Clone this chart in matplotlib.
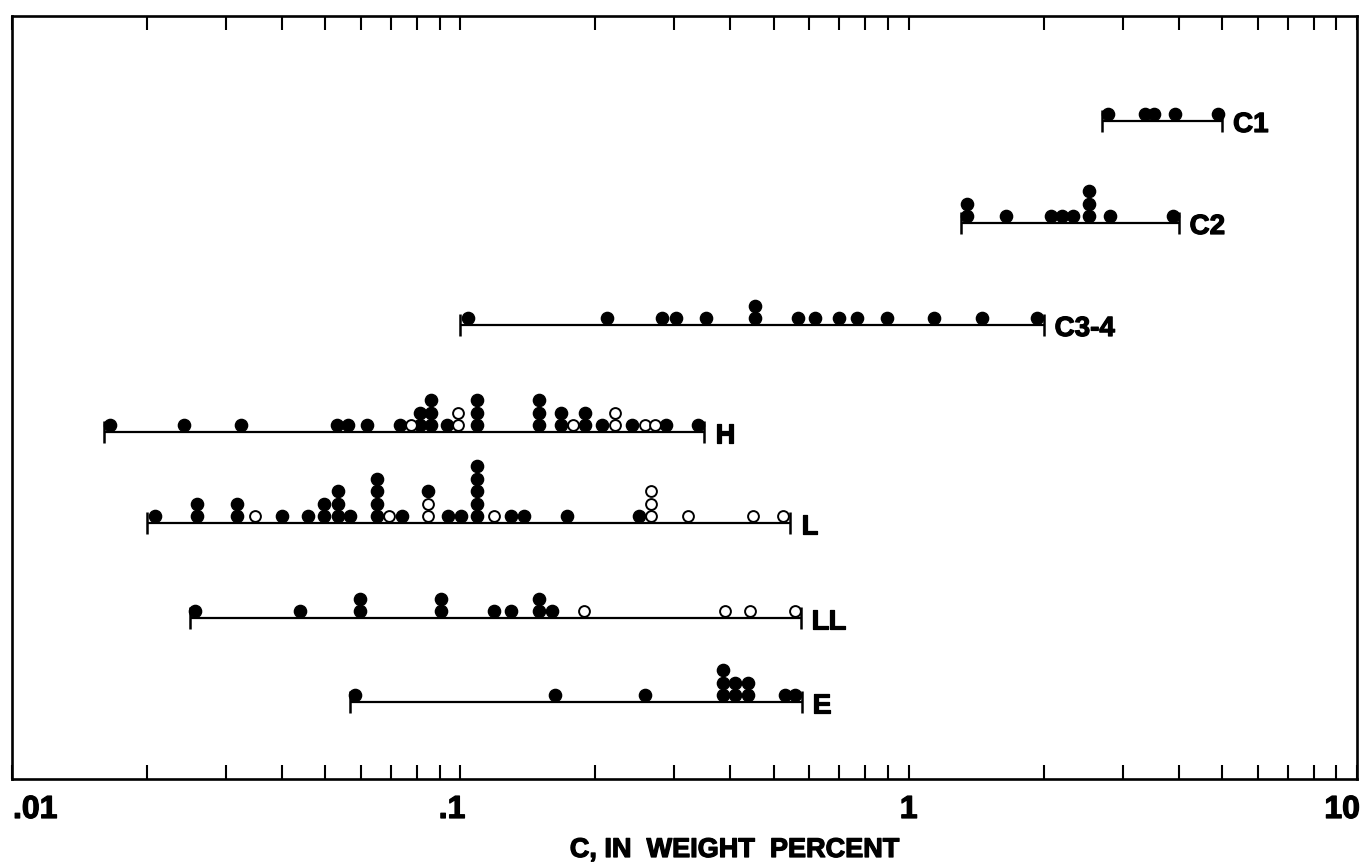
import matplotlib
matplotlib.use("Agg")
import matplotlib.pyplot as plt
import matplotlib.patheffects as pe
from matplotlib.ticker import FixedLocator, NullFormatter
from matplotlib.transforms import blended_transform_factory, offset_copy

plt.rcParams['font.family'] = ['Liberation Sans', 'DejaVu Sans']
plt.rcParams['font.weight'] = 'bold'

# ---- data: carbon content (weight percent) per group ----
groups = ['C1', 'C2', 'C3-4', 'H', 'L', 'LL', 'E']

c1_vals = [2.78, 3.36, 3.52, 3.92, 4.89]
c1_open = [0, 0, 0, 0, 0]
c1_range = (2.7, 5.0)

c2_vals = [1.35, 1.35, 1.65, 2.08, 2.20, 2.32, 2.52, 2.52, 2.52, 2.81, 3.88]
c2_open = [0] * 11
c2_range = (1.31, 4.0)

c34_vals = [0.104, 0.212, 0.281, 0.302, 0.354, 0.454, 0.454, 0.566, 0.617,
            0.698, 0.766, 0.893, 1.14, 1.46, 1.93]
c34_open = [0] * 15
c34_range = (0.1, 2.0)

h_vals = [0.0165, 0.0242, 0.0324, 0.0530, 0.0561, 0.0619, 0.0733, 0.0776,
          0.0812, 0.0812, 0.0859, 0.0859, 0.0859, 0.0933, 0.0987, 0.0987,
          0.109, 0.109, 0.109, 0.150, 0.150, 0.150, 0.168, 0.168, 0.178,
          0.190, 0.190, 0.207, 0.221, 0.221, 0.242, 0.258, 0.272, 0.287, 0.339]
h_open = [0, 0, 0, 0, 0, 0, 0, 1,
          0, 0, 0, 0, 0, 0, 1, 1,
          0, 0, 0, 0, 0, 0, 0, 0, 1,
          0, 0, 0, 1, 1, 0, 1, 1, 0, 0]
h_range = (0.016, 0.35)

l_vals = [0.0208, 0.0259, 0.0259, 0.0317, 0.0317, 0.0348, 0.0400, 0.0457,
          0.0496, 0.0496, 0.0533, 0.0533, 0.0533, 0.0567, 0.0651, 0.0651,
          0.0651, 0.0651, 0.0693, 0.0741, 0.0846, 0.0846, 0.0846, 0.0938,
          0.1003, 0.109, 0.109, 0.109, 0.109, 0.109, 0.119, 0.130, 0.139,
          0.173, 0.250, 0.266, 0.266, 0.266, 0.322, 0.449, 0.524]
l_open = [0, 0, 0, 0, 0, 1, 0, 0,
          0, 0, 0, 0, 0, 0, 0, 0,
          0, 0, 1, 0, 1, 1, 0, 0,
          0, 0, 0, 0, 0, 0, 1, 0, 0,
          0, 0, 1, 1, 1, 1, 1, 1]
l_range = (0.02, 0.543)

ll_vals = [0.0256, 0.0439, 0.0597, 0.0597, 0.0904, 0.0904, 0.119, 0.130,
           0.150, 0.150, 0.160, 0.189, 0.389, 0.442, 0.557]
ll_open = [0, 0, 0, 0, 0, 0, 0, 0, 0, 0, 0, 1, 1, 1, 1]
ll_range = (0.025, 0.574)

e_vals = [0.0582, 0.1625, 0.258, 0.385, 0.385, 0.385, 0.409, 0.409,
          0.4375, 0.4375, 0.529, 0.557]
e_open = [0] * 12
e_range = (0.0567, 0.577)

all_vals = [c1_vals, c2_vals, c34_vals, h_vals, l_vals, ll_vals, e_vals]
all_open = [c1_open, c2_open, c34_open, h_open, l_open, ll_open, e_open]
all_ranges = [c1_range, c2_range, c34_range, h_range, l_range, ll_range, e_range]

tick_values = [0.01, 0.1, 1, 10]
tick_labels = ['.01', '.1', '1', '10']

# ---- layout (y axis measured in pixel rows, top = 16, bottom = 779) ----
row_base = [121, 223, 325, 432, 523, 618, 702]
dot_lift = 7.0      # centre of first dot above the range line
dot_step = 12.5     # vertical spacing of stacked dots
dot_ms = 8.8        # marker size in points

heavy = [pe.withStroke(linewidth=0.9, foreground='black')]

fig = plt.figure(figsize=(13.65, 8.65), dpi=100)
ax = fig.add_axes([12 / 1365, 1 - 779 / 865, (1357 - 12) / 1365, (779 - 16) / 865])
ax.set_xscale('log')
ax.set_xlim(0.01, 10)
ax.set_ylim(779, 16)

for name, vals, opens, (lo, hi), base in zip(groups, all_vals, all_open,
                                             all_ranges, row_base):
    ax.plot([lo, hi], [base, base], color='black', lw=1.6, zorder=2,
            solid_capstyle='butt')
    ax.plot([lo, hi], [base, base], linestyle='none', marker='|',
            markersize=16, markeredgewidth=1.8, color='black', zorder=2)
    seen = {}
    fx, fy, ox, oy = [], [], [], []
    for v, o in zip(vals, opens):
        lvl = seen.get(v, 0)
        seen[v] = lvl + 1
        y = base - dot_lift - dot_step * lvl
        if o:
            ox.append(v)
            oy.append(y)
        else:
            fx.append(v)
            fy.append(y)
    ax.plot(fx, fy, linestyle='none', marker='o', markersize=dot_ms,
            markerfacecolor='black', markeredgecolor='black', zorder=3)
    ax.plot(ox, oy, linestyle='none', marker='o', markersize=dot_ms - 1.0,
            markerfacecolor='white', markeredgecolor='black',
            markeredgewidth=1.4, zorder=3)
    ax.text(hi, base + 11, name, fontsize=20, fontweight='bold',
            ha='left', va='baseline', path_effects=heavy,
            transform=offset_copy(ax.transData, fig, x=11, y=0, units='dots'))

# ---- axes frame and ticks ----
for sp in ax.spines.values():
    sp.set_linewidth(1.9)
ax.xaxis.set_major_locator(FixedLocator(tick_values))
ax.xaxis.set_minor_locator(FixedLocator(
    [m * d for d in (0.01, 0.1, 1) for m in range(2, 10)]))
ax.xaxis.set_major_formatter(NullFormatter())
ax.xaxis.set_minor_formatter(NullFormatter())
ax.tick_params(axis='x', which='both', direction='in', length=10, width=1.5,
               top=True, bottom=True)
ax.set_yticks([])

# tick labels below the frame
tl_trans = blended_transform_factory(ax.transData, ax.transAxes)
aligns = ['left', 'right', 'center', 'right']
shifts = [1, 5, 0, 3]
for v, lab, ha, dx in zip(tick_values, tick_labels, aligns, shifts):
    ax.text(v, 0, lab, fontsize=23, fontweight='bold', ha=ha, va='baseline',
            path_effects=heavy,
            transform=offset_copy(tl_trans, fig, x=dx, y=-39, units='dots'),
            clip_on=False)

fig.text(735 / 1365, 8 / 865, 'C, IN  WEIGHT  PERCENT', fontsize=19.5,
         fontweight='bold', ha='center', va='baseline', path_effects=heavy)

fig.savefig('out.png', dpi=100)
